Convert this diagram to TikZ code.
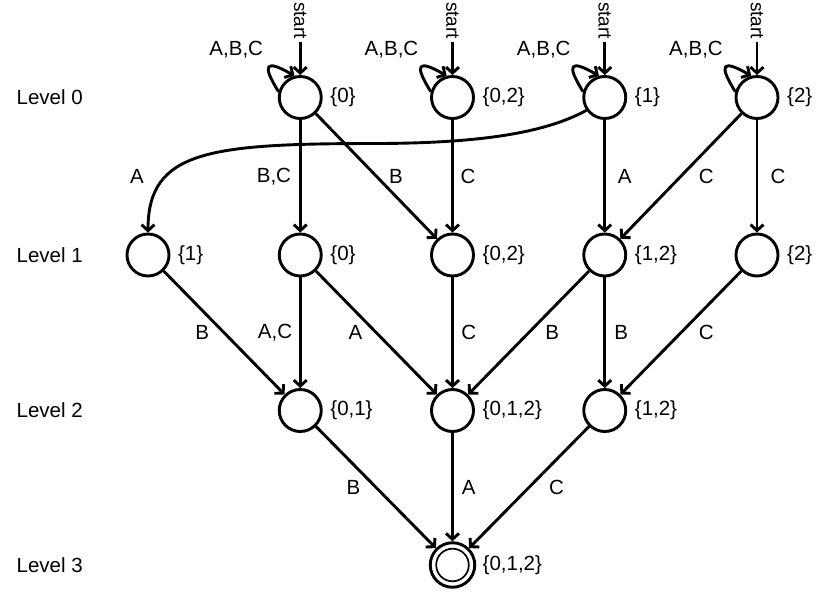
\documentclass[tikz,border=0pt]{standalone}
\usepackage{fontspec}
\setmainfont{Liberation Sans}
\usetikzlibrary{arrows.meta}
\begin{document}
\begin{tikzpicture}[x=1pt,y=1pt,
  font=\fontsize{20.5}{24}\selectfont,
  state/.style={circle, draw, line width=2.9pt, minimum size=42pt, inner sep=0pt},
  accst/.style={circle, draw, line width=2.9pt, minimum size=44.5pt, inner sep=0pt},
  slbl/.style={inner sep=0pt, xshift=7.5pt},
  flbl/.style={inner sep=0pt, xshift=6.3pt},
  edge/.style={line width=2.9pt, -{Straight Barb[length=6pt,width=13pt]}},
  elbl/.style={midway, inner sep=0pt},
  lvl/.style={anchor=west, inner sep=0pt},
  startlbl/.style={rotate=-90, anchor=east, inner sep=2.5pt, font=\fontsize{19}{22}\selectfont}]
\useasboundingbox (0,0) rectangle (830,-593);

% level labels
\node[lvl] (lv0) at (16.5,-97.5) {Level 0};
\node[lvl] (lv1) at (16.5,-255) {Level 1};
\node[lvl] (lv2) at (16.5,-410.5) {Level 2};
\node[lvl] (lv3) at (16.5,-565) {Level 3};

% level 0
\node[state, label={[slbl]0:\{0\}}]   (n00) at (300.25,-97.5) {};
\node[state, label={[slbl]0:\{0,2\}}] (n01) at (452.5,-97.5) {};
\node[state, label={[slbl]0:\{1\}}]   (n02) at (604.75,-97.5) {};
\node[state, label={[slbl]0:\{2\}}]   (n03) at (757,-97.5) {};
% level 1
\node[state, label={[slbl]0:\{1\}}]   (n10) at (148,-255) {};
\node[state, label={[slbl]0:\{0\}}]   (n11) at (300.25,-255) {};
\node[state, label={[slbl]0:\{0,2\}}] (n12) at (452.5,-255) {};
\node[state, label={[slbl]0:\{1,2\}}] (n13) at (604.75,-255) {};
\node[state, label={[slbl]0:\{2\}}]   (n14) at (757,-255) {};
% level 2
\node[state, label={[slbl]0:\{0,1\}}]   (n20) at (300.25,-410.5) {};
\node[state, label={[slbl]0:\{0,1,2\}}] (n21) at (452.5,-410.5) {};
\node[state, label={[slbl]0:\{1,2\}}]   (n22) at (604.75,-410.5) {};
% level 3
\node[accst, label={[flbl]0:\{0,1,2\}}] (fin) at (452.5,-565) {};
\draw[line width=1.7pt] (fin.center) circle (16.3pt);

% start arrows, loops
\foreach \n/\dx in {n00/-64,n01/-61,n02/-61,n03/-61}{
  \coordinate (s\n) at ([yshift=55.8pt]\n.center);
  \draw[edge] (s\n) -- (\n);
  \node[startlbl] (t\n) at (s\n) {start};
  \draw[edge] (\n.165) .. controls +(122:33) and +(150:33) .. (\n.105);
  \node[inner sep=0pt] (l\n) at ([shift={(\dx,47.8)}]\n.center) {A,B,C};
}

% level 0 -> level 1
\draw[edge] (n00) -- node[elbl, xshift=-26.3pt] {B,C} (n11);
\draw[edge] (n00) -- node[elbl, xshift=19.7pt] {B} (n12);
\draw[edge] (n01) -- node[elbl, xshift=15.6pt] {C} (n12);
\draw[edge] (n02) -- node[elbl, xshift=20pt] {A} (n13);
\draw[edge] (n03) -- node[elbl, xshift=25.3pt] {C} (n13);
\draw[edge] (n03) -- node[elbl, xshift=21pt] {C} (n14);
\coordinate (bend) at (380,-143.5);
\draw[edge] (n02.215) .. controls (545,-133) and (480,-143) .. (bend)
  .. controls (210,-143.5) and (148,-150) .. (n10.north);
\node[inner sep=0pt] (la) at (137,-176.7) {A};

% level 1 -> level 2
\draw[edge] (n10) -- node[elbl, xshift=-22pt] {B} (n20);
\draw[edge] (n11) -- node[elbl, xshift=-25.2pt] {A,C} (n20);
\draw[edge] (n11) -- node[elbl, xshift=-20.8pt] {A} (n21);
\draw[edge] (n12) -- node[elbl, xshift=16.3pt] {C} (n21);
\draw[edge] (n13) -- node[elbl, xshift=23.7pt] {B} (n21);
\draw[edge] (n13) -- node[elbl, xshift=16.5pt] {B} (n22);
\draw[edge] (n14) -- node[elbl, xshift=25.5pt] {C} (n22);

% level 2 -> level 3
\draw[edge] (n20) -- node[elbl, xshift=-22.6pt] {B} (fin);
\draw[edge] (n21) -- node[elbl, xshift=16.3pt] {A} (fin);
\draw[edge] (n22) -- node[elbl, xshift=27.4pt] {C} (fin);
\end{tikzpicture}
\end{document}
